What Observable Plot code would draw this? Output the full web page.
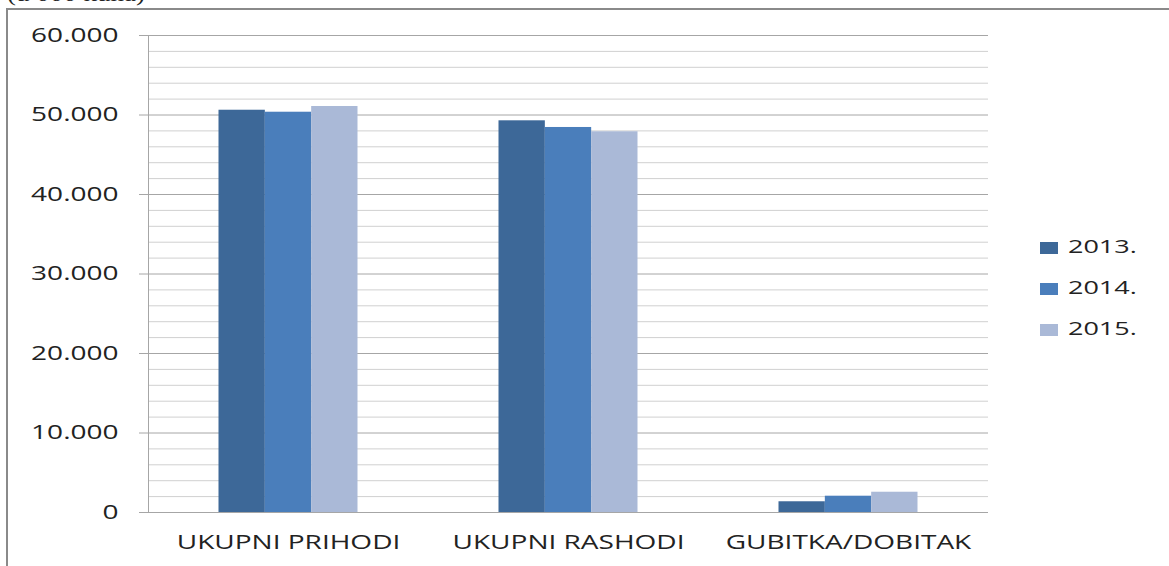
<!DOCTYPE html>
<html>
<head>
<meta charset="utf-8">
<script src="https://cdn.jsdelivr.net/npm/d3@7"></script>
<script src="https://cdn.jsdelivr.net/npm/@observablehq/plot@0.6"></script>
<style>
  html, body { margin: 0; padding: 0; background: #fff; overflow: hidden; }
  #wrap { position: relative; width: 1169px; height: 566px; overflow: hidden; }
  #frame { position: absolute; left: 6px; top: 8px; width: 1300px; height: 700px; border-left: 2px solid #8a8a8a; border-top: 2px solid #8a8a8a; }
  #unit { position: absolute; left: 7px; top: -17px; font-family: "Liberation Serif", serif; font-size: 20px; color: #222; transform: scaleX(1.35); transform-origin: left; white-space: nowrap; }
  #chart { position: absolute; left: 0; top: 0; }
  #legend { position: absolute; left: 1040px; top: 0; font-family: "Open Sans", sans-serif; font-size: 19px; color: #222; }
  .item { position: absolute; left: 0; width: 140px; height: 20px; }
  .sw { position: absolute; left: 0; top: 4px; width: 18px; height: 12px; }
  .lab { position: absolute; left: 28px; top: -5px; transform: scaleX(1.42); transform-origin: left; white-space: nowrap; }
</style>
</head>
<body>
<div id="wrap">
  <div id="frame"></div>
  <div id="unit">(u 000 kuna)</div>
  <div id="chart"></div>
  <div id="legend"></div>
</div>
<script>
const categories = ["UKUPNI PRIHODI", "UKUPNI RASHODI", "GUBITKA/DOBITAK"];
const years = ["2013.", "2014.", "2015."];
const values2013 = [50600, 49270, 1350];
const values2014 = [50350, 48430, 2050];
const values2015 = [51070, 47890, 2550];
const majorTicks = [0, 10000, 20000, 30000, 40000, 50000, 60000];
const minorTicks = [2000, 4000, 6000, 8000, 12000, 14000, 16000, 18000, 22000, 24000, 26000, 28000, 32000, 34000, 36000, 38000, 42000, 44000, 46000, 48000, 52000, 54000, 56000, 58000];
const colors = ["#3d6898", "#4a7ebb", "#aab9d7"];

const series = [values2013, values2014, values2015];
const W = 1169, H = 566;
const mL = 148, mR = 181, mT = 35, mB = 54;
const band = (W - mL - mR) / categories.length;
const groupInset = 70.5;
const barW = (band - 2 * groupInset) / years.length;

const fmt = d => d3.format(",")(d).replace(/,/g, ".");

const barMarks = series.map((vals, i) =>
  Plot.barY(categories.map((c, j) => ({cat: c, v: vals[j]})), {
    x: "cat", y: "v", fill: colors[i],
    insetLeft: groupInset + i * barW,
    insetRight: band - groupInset - (i + 1) * barW
  })
);

const chart = Plot.plot({
  width: W, height: H,
  marginLeft: mL, marginRight: mR, marginTop: mT, marginBottom: mB,
  style: {background: "transparent", fontFamily: "'Open Sans', sans-serif", overflow: "visible"},
  x: {type: "band", domain: categories, padding: 0, label: null},
  y: {domain: [0, 60000], label: null},
  marks: [
    Plot.ruleY(minorTicks, {stroke: "#d0d0d0"}),
    Plot.ruleY(majorTicks, {stroke: "#a6a6a6"}),
    ...barMarks,
    Plot.ruleY([0], {stroke: "#a6a6a6"}),
    Plot.frame({anchor: "left", stroke: "#a6a6a6"}),
    Plot.axisY({ticks: majorTicks, tickSize: 9, tickPadding: 21, tickFormat: fmt, fontSize: 20, stroke: "#a6a6a6", fill: "#222", label: null}),
    Plot.axisX({tickSize: 0, tickPadding: 22, fontSize: 20, fill: "#222", label: null})
  ]
});
document.getElementById("chart").appendChild(chart);

// horizontally stretch text glyphs like the reference
const S = 1.4;
chart.querySelectorAll("text").forEach(t => {
  const len = t.getComputedTextLength();
  if (len > 0) {
    t.setAttribute("textLength", (len * S).toFixed(1));
    t.setAttribute("lengthAdjust", "spacingAndGlyphs");
  }
});

const legend = document.getElementById("legend");
const legendTop = 238, legendStep = 41;
years.forEach((y, i) => {
  const item = document.createElement("div");
  item.className = "item";
  item.style.top = (legendTop + i * legendStep) + "px";
  const sw = document.createElement("div");
  sw.className = "sw";
  sw.style.background = colors[i];
  const lab = document.createElement("div");
  lab.className = "lab";
  lab.textContent = y;
  item.appendChild(sw);
  item.appendChild(lab);
  legend.appendChild(item);
});
</script>
</body>
</html>
